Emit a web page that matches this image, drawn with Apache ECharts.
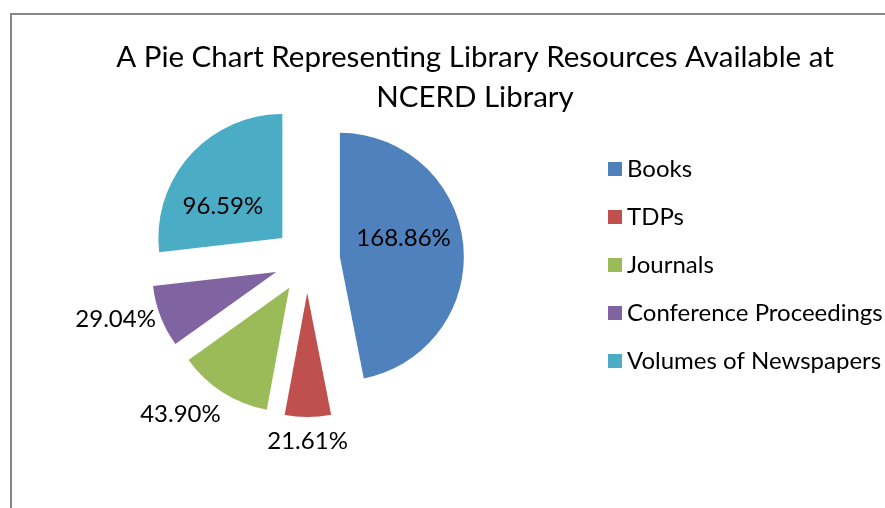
<!DOCTYPE html>
<html>
<head>
<meta charset="utf-8">
<script src="https://cdn.jsdelivr.net/npm/echarts@6/dist/echarts.min.js"></script>
<style>
  html, body { margin: 0; padding: 0; background: #fff; }
  #chart { width: 885px; height: 508px; }
</style>
</head>
<body>
<div id="chart"></div>
<script>
const FONT = 'Lato'
const categories = ['Books', 'TDPs', 'Journals', 'Conference Proceedings', 'Volumes of Newspapers']
const values = [168.86, 21.61, 43.90, 29.04, 96.59]
const colors = ['#4F81BD', '#C0504D', '#9BBB59', '#8064A2', '#4BACC6']
// label nudges so text lands where the original puts it
const labelShift = [[-1, -12], [0, 83], [-74, 72], [-100, 24], [-11, 11]]

const chart = echarts.init(document.getElementById('chart'))

const data = categories.map((name, i) => ({
  name,
  value: values[i],
  selected: true,
  itemStyle: { color: colors[i] }
}))

chart.setOption({
  animation: false,
  title: {
    text: 'A Pie Chart Representing Library Resources Available at\nNCERD Library',
    left: 470,
    top: 32,
    textAlign: 'center',
    textStyle: { fontFamily: FONT, fontSize: 29.5, fontWeight: 'normal', color: '#000', lineHeight: 40 }
  },
  legend: {
    orient: 'vertical',
    left: 603,
    top: 151,
    itemWidth: 14,
    itemHeight: 14,
    itemGap: 22,
    icon: 'rect',
    selectedMode: false,
    data: categories,
    textStyle: { fontFamily: FONT, fontSize: 24, color: '#000', lineHeight: 26 }
  },
  graphic: [
    {
      type: 'rect',
      shape: { x: 11, y: 14, width: 1000, height: 600 },
      style: { fill: 'none', stroke: '#868686', lineWidth: 2 },
      silent: true
    }
  ],
  series: [
    {
      type: 'pie',
      center: [307, 260],
      radius: 124,
      startAngle: 90,
      clockwise: true,
      selectedMode: 'multiple',
      selectedOffset: 33,
      avoidLabelOverlap: false,
      emphasis: { scale: false },
      label: {
        show: true,
        position: 'inside',
        formatter: (p) => p.value.toFixed(2) + '%',
        fontFamily: FONT,
        fontSize: 24,
        color: '#000'
      },
      labelLine: { show: false },
      labelLayout: (p) => ({ dx: labelShift[p.dataIndex][0], dy: labelShift[p.dataIndex][1] }),
      data
    }
  ]
})
</script>
</body>
</html>
